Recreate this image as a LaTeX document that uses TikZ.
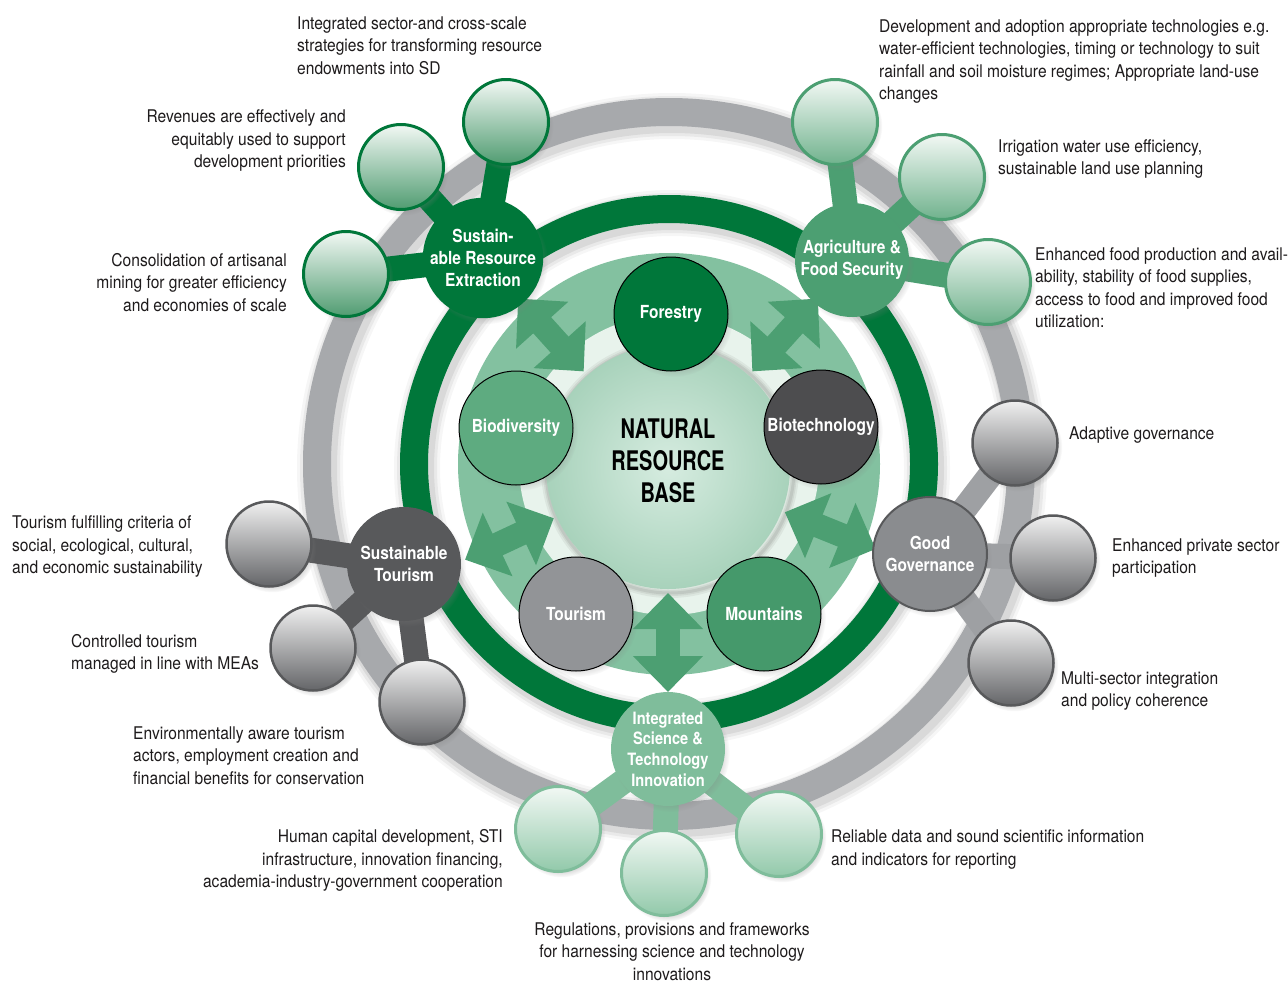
\documentclass[tikz,border=0pt]{standalone}
\usepackage{fontspec}
\setmainfont{TeX Gyre Heros}[FakeStretch=0.89, BoldFeatures={FakeStretch=0.86}]
\newfontfamily\nrbfont{TeX Gyre Heros}[FakeStretch=0.74]
\usetikzlibrary{shadows,arrows.meta}
\pgfdeclarelayer{rings}
\pgfdeclarelayer{bars}
\pgfsetlayers{rings,bars,main}
\definecolor{dkgreen}{RGB}{0,119,58}
\definecolor{mdgreen}{RGB}{76,159,114}
\definecolor{ltgreen}{RGB}{127,189,155}
\definecolor{discgreen}{RGB}{131,193,160}
\definecolor{bandgreen}{RGB}{232,243,236}
\definecolor{ringgray}{RGB}{167,169,172}
\definecolor{bargray}{RGB}{158,160,163}
\definecolor{dkgray}{RGB}{88,89,91}
\definecolor{mdgray}{RGB}{138,140,143}
\definecolor{biogreen}{RGB}{94,171,128}
\definecolor{mtgreen}{RGB}{69,153,107}
\definecolor{techgray}{RGB}{77,77,79}
\definecolor{tourgray}{RGB}{146,148,151}
\definecolor{sattop}{RGB}{242,248,244}
\definecolor{satbotA}{RGB}{80,156,113}
\definecolor{satbotB}{RGB}{112,178,141}
\definecolor{satbotC}{RGB}{146,201,170}
\definecolor{gtop}{RGB}{240,240,240}
\definecolor{gbot}{RGB}{100,101,104}
\definecolor{ctrin}{RGB}{214,236,224}
\definecolor{ctrout}{RGB}{168,210,187}
\definecolor{txt}{RGB}{30,27,28}
\begin{document}
\begin{tikzpicture}[x=1pt,y=-1pt,
  sat/.style={circle, minimum size=85pt, inner sep=0pt, line width=3pt,
    circular drop shadow={shadow xshift=3pt,shadow yshift=-4pt,opacity=0.3,shadow scale=1.04}},
  gsat/.style={sat, top color=sattop},
  graysat/.style={sat, top color=gtop, bottom color=gbot, draw=dkgray, line width=2.5pt},
  hub/.style={circle, minimum size=114pt, inner sep=0pt, text=white, align=center,
    font=\bfseries\fontsize{18}{22}\selectfont,
    circular drop shadow={shadow xshift=3pt,shadow yshift=-4pt,opacity=0.3,shadow scale=1.03}},
  inner/.style={circle, minimum size=114pt, inner sep=0pt, draw=black, line width=1pt,
    text=white, font=\bfseries\fontsize{18}{22}\selectfont,
    circular drop shadow={shadow xshift=3pt,shadow yshift=-4pt,opacity=0.3,shadow scale=1.03}},
  desc/.style={inner sep=0pt, text=txt, font=\fontsize{17.5}{22.5}\selectfont},
  bar/.style={line width=25pt},
  fatarrow/.style={line width=24pt, draw=mdgreen,
    arrows={Triangle[width=68pt,length=36pt]-Triangle[width=68pt,length=36pt]}}
]
\useasboundingbox (0,0) rectangle (1288,983);

% ---------- rings and disc ----------
\begin{pgfonlayer}{rings}
  \fill[white] (0,0) rectangle (1288,983);
  \foreach \w/\o in {46/0.035,40/0.05,34/0.065}{
    \draw[line width=\w pt, black, opacity=\o] (672,468) circle[radius=352];
    \draw[line width=\w pt, black, opacity=\o] (672,468) circle[radius=255];
  }
  \draw[line width=28pt, ringgray] (669,464) circle[radius=352];
  \fill[discgreen] (669,464) circle[radius=211];
  \fill[bandgreen] (669,465) circle[radius=150];
  \foreach \w/\o in {10/0.05,6/0.06,3/0.07}{
    \draw[line width=\w pt, black, opacity=\o] (670,469) circle[radius=124];
  }
  \draw[line width=28pt, dkgreen] (669,464) circle[radius=255];
\end{pgfonlayer}

% ---------- centre ----------
\node[circle, minimum size=244pt, inner sep=0pt, inner color=ctrin, outer color=ctrout] (nrb) at (668,467) {};
\node[font=\nrbfont\bfseries\fontsize{27}{32}\selectfont, align=center, text=black] (nrbtxt) at (668,461) {NATURAL\\RESOURCE\\BASE};

% ---------- inner satellites ----------
\node[inner, fill=dkgreen] (forestry) at (671,314) {Forestry};
\node[inner, fill=biogreen] (biodiv) at (516,428) {Biodiversity};
\node[inner, fill=techgray] (biotech) at (821,427) {Biotechnology};
\node[inner, fill=tourgray] (tourism) at (576,614) {Tourism};
\node[inner, fill=mtgreen] (mountains) at (764,614) {Mountains};

% ---------- arrows ----------
\coordinate (a1s) at (583.7,371.4); \coordinate (a1e) at (518.1,298.5);
\coordinate (a2s) at (752.3,371.4); \coordinate (a2e) at (817.9,298.5);
\coordinate (a3s) at (553.8,518.2); \coordinate (a3e) at (465.0,559.7);
\coordinate (a4s) at (784.8,512.2); \coordinate (a4e) at (875.7,549.0);
\coordinate (a5s) at (668,593);     \coordinate (a5e) at (668,692);
\begin{pgfonlayer}{bars}
  \foreach \s/\e in {a1s/a1e,a2s/a2e,a3s/a3e,a4s/a4e,a5s/a5e}
    \draw[fatarrow] (\s) -- (\e);
\end{pgfonlayer}

% ---------- hubs ----------
\node[hub, fill=dkgreen] (sre) at (483,258) {Sustain-\\able Resource\\Extraction};
\node[hub, fill=mdgreen] (agri) at (852,260) {Agriculture \&\\Food Security};
\node[hub, fill=mdgray, draw=dkgray, line width=2pt] (gg) at (930,554) {Good\\Governance};
\node[hub, fill=ltgreen, font=\bfseries\fontsize{17}{20.7}\selectfont] (ist) at (668,749) {Integrated\\Science \&\\Technology\\Innovation};
\node[hub, fill=dkgray] (st) at (404,564) {Sustainable\\Tourism};

% ---------- outer satellites ----------
\node[gsat, bottom color=satbotA, draw=dkgreen] (sre1) at (506,122) {};
\node[gsat, bottom color=satbotA, draw=dkgreen] (sre2) at (401,167) {};
\node[gsat, bottom color=satbotA, draw=dkgreen] (sre3) at (346,274) {};
\node[gsat, bottom color=satbotB, draw=mdgreen] (ag1) at (835,122) {};
\node[gsat, bottom color=satbotB, draw=mdgreen] (ag2) at (942,177) {};
\node[gsat, bottom color=satbotB, draw=mdgreen] (ag3) at (988,282) {};
\node[graysat] (gg1) at (1015,443) {};
\node[graysat] (gg2) at (1053,558) {};
\node[graysat] (gg3) at (1011,663) {};
\node[graysat] (st1) at (269,544) {};
\node[graysat] (st2) at (313,648) {};
\node[graysat] (st3) at (422,702) {};
\node[gsat, bottom color=satbotC, draw=ltgreen] (ist1) at (558,829) {};
\node[gsat, bottom color=satbotC, draw=ltgreen] (ist2) at (664,873) {};
\node[gsat, bottom color=satbotC, draw=ltgreen] (ist3) at (779,834) {};

% ---------- bars ----------
\begin{pgfonlayer}{bars}
  \foreach \n in {sre1,sre2,sre3} \draw[bar, dkgreen] (sre.center) -- (\n.center);
  \foreach \n in {ag1,ag2,ag3} \draw[bar, mdgreen] (agri.center) -- (\n.center);
  \foreach \n in {gg1,gg2,gg3} \draw[bar, bargray] (gg.center) -- (\n.center);
  \foreach \n in {st1,st2,st3} \draw[bar, dkgray] (st.center) -- (\n.center);
  \foreach \n in {ist1,ist2,ist3} \draw[bar, ltgreen] (ist.center) -- (\n.center);
\end{pgfonlayer}

% ---------- descriptions ----------
\node[desc, anchor=west, align=left] (tsre1) at (297,45.5) {Integrated sector-and cross-scale\\strategies for transforming resource\\endowments into SD};
\node[desc, anchor=east, align=right] (tsre2) at (346,140.5) {Revenues are effectively and\\equitably used to support\\development priorities};
\node[desc, anchor=east, align=right] (tsre3) at (287,282.5) {Consolidation of artisanal\\mining for greater efficiency\\and economies of scale};
\node[desc, anchor=west, align=left] (tag1) at (879,61.5) {Development and adoption appropriate technologies e.g.\\water-efficient technologies, timing or technology to suit\\rainfall and soil moisture regimes; Appropriate land-use\\changes};
\node[desc, anchor=west, align=left] (tag2) at (998,159) {Irrigation water use efficiency,\\sustainable land use planning};
\node[desc, anchor=west, align=left] (tag3) at (1035,287.5) {Enhanced food production and avail-\\ability, stability of food supplies,\\access to food and improved food\\utilization:};
\node[desc, anchor=west, align=left] (tgg1) at (1069,435) {Adaptive governance};
\node[desc, anchor=west, align=left] (tgg2) at (1112,558) {Enhanced private sector\\participation};
\node[desc, anchor=west, align=left] (tgg3) at (1061,691) {Multi-sector integration\\and policy coherence};
\node[desc, anchor=west, align=left] (tst1) at (12,546.5) {Tourism fulfilling criteria of\\social, ecological, cultural,\\and economic sustainability};
\node[desc, anchor=west, align=left] (tst2) at (71,654) {Controlled tourism\\managed in line with MEAs};
\node[desc, anchor=west, align=left] (tst3) at (133,755.5) {Environmentally aware tourism\\actors, employment creation and\\financial benefits for conservation};
\node[desc, anchor=east, align=right] (tist1) at (503,860.5) {Human capital development, STI\\infrastructure, innovation financing,\\academia-industry-government cooperation};
\node[desc, anchor=west, align=left] (tist3) at (831,849.5) {Reliable data and sound scientific information\\and indicators for reporting};
\node[desc, align=center] (tist2) at (672,951.5) {Regulations, provisions and frameworks\\for harnessing science and technology\\innovations};
\end{tikzpicture}
\end{document}
